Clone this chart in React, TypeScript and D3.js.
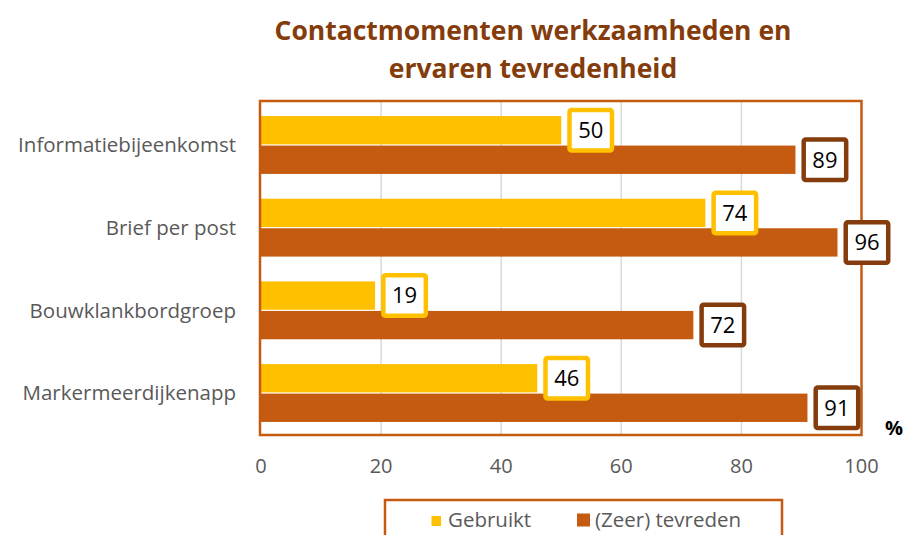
import React from "react";
import * as d3 from "d3";

const categories = [
  "Informatiebijeenkomst",
  "Brief per post",
  "Bouwklankbordgroep",
  "Markermeerdijkenapp",
];
const seriesNames = ["Gebruikt", "(Zeer) tevreden"];
const gebruikt = [50, 74, 19, 46];
const tevreden = [89, 96, 72, 91];
const xTicks = [0, 20, 40, 60, 80, 100];

const colors = ["#FFC000", "#C55A11"];
const boxColors = ["#FFC000", "#843C0C"];
const font = "'Open Sans', 'Noto Sans', sans-serif";

export default function App() {
  const width = 907;
  const height = 535;
  const left = 261;
  const right = 861.5;
  const top = 102;
  const bottom = 436;

  const x = d3.scaleLinear().domain([0, 100]).range([left, right]);
  const y = d3
    .scaleBand()
    .domain(categories)
    .range([top, bottom])
    .paddingInner(0.3)
    .paddingOuter(0.17);
  const ySub = d3
    .scaleBand()
    .domain(seriesNames)
    .range([0, y.bandwidth()])
    .paddingInner(0.04);

  const series = [gebruikt, tevreden];
  const boxW = 42.5;
  const boxH = 40.5;

  return (
    <svg
      width={width}
      height={height}
      style={{ position: "absolute", left: 0, top: 0, background: "#fff" }}
      fontFamily={font}
    >
      {/* title */}
      <text
        x={533}
        y={40}
        textAnchor="middle"
        fontSize={26.5}
        fontWeight="bold"
        fill="#843C0C"
      >
        Contactmomenten werkzaamheden en
      </text>
      <text
        x={533}
        y={78}
        textAnchor="middle"
        fontSize={26.5}
        fontWeight="bold"
        fill="#843C0C"
      >
        ervaren tevredenheid
      </text>

      {/* gridlines */}
      <g>
        {xTicks.slice(1, -1).map((t) => (
          <line
            key={t}
            x1={x(t)}
            x2={x(t)}
            y1={top}
            y2={bottom}
            stroke="#D9D9D9"
            strokeWidth={1.5}
          />
        ))}
      </g>

      {/* bars */}
      {series.map((vals, si) => (
        <g key={si} fill={colors[si]}>
          {categories.map((c, i) => (
            <rect
              key={c}
              x={x(0)}
              y={(y(c) ?? 0) + (ySub(seriesNames[si]) ?? 0)}
              width={x(vals[i]) - x(0)}
              height={ySub.bandwidth()}
            />
          ))}
        </g>
      ))}

      {/* plot frame */}
      <rect
        x={left - 1}
        y={top - 1}
        width={right - left + 1}
        height={bottom - top}
        fill="none"
        stroke="#C55A11"
        strokeWidth={2.5}
      />

      {/* data labels */}
      {series.map((vals, si) => (
        <g key={"l" + si}>
          {categories.map((c, i) => {
            const cy =
              (y(c) ?? 0) + (ySub(seriesNames[si]) ?? 0) + ySub.bandwidth() / 2;
            const bx = x(vals[i]) + 6 + 2.25;
            return (
              <g key={c}>
                <rect
                  x={bx}
                  y={cy - boxH / 2}
                  width={boxW}
                  height={boxH}
                  rx={2}
                  fill="#fff"
                  stroke={boxColors[si]}
                  strokeWidth={4.5}
                />
                <text
                  x={bx + boxW / 2}
                  y={cy}
                  dy="0.36em"
                  textAnchor="middle"
                  fontSize={22}
                  fill="#000"
                >
                  {vals[i]}
                </text>
              </g>
            );
          })}
        </g>
      ))}

      {/* category labels */}
      {categories.map((c) => (
        <text
          key={c}
          x={236}
          y={(y(c) ?? 0) + y.bandwidth() / 2}
          dy="0.35em"
          textAnchor="end"
          fontSize={20.5}
          fill="#595959"
        >
          {c}
        </text>
      ))}

      {/* x tick labels */}
      {xTicks.map((t) => (
        <text
          key={t}
          x={x(t)}
          y={466}
          dy="0.35em"
          textAnchor="middle"
          fontSize={20}
          fill="#595959"
        >
          {t}
        </text>
      ))}
      <text x={894} y={428} dy="0.35em" textAnchor="middle" fontSize={20} fontWeight="bold" fill="#000">
        %
      </text>

      {/* legend */}
      <rect
        x={385}
        y={500}
        width={397}
        height={50}
        fill="none"
        stroke="#C55A11"
        strokeWidth={2.5}
      />
      <rect x={431.5} y={516} width={9.5} height={10} fill={colors[0]} />
      <text x={448} y={520} dy="0.35em" fontSize={20.5} fill="#595959">
        {seriesNames[0]}
      </text>
      <rect x={577} y={513.5} width={13} height={13} fill={colors[1]} />
      <text x={595} y={520} dy="0.35em" fontSize={20.5} fill="#595959">
        {seriesNames[1]}
      </text>
    </svg>
  );
}
